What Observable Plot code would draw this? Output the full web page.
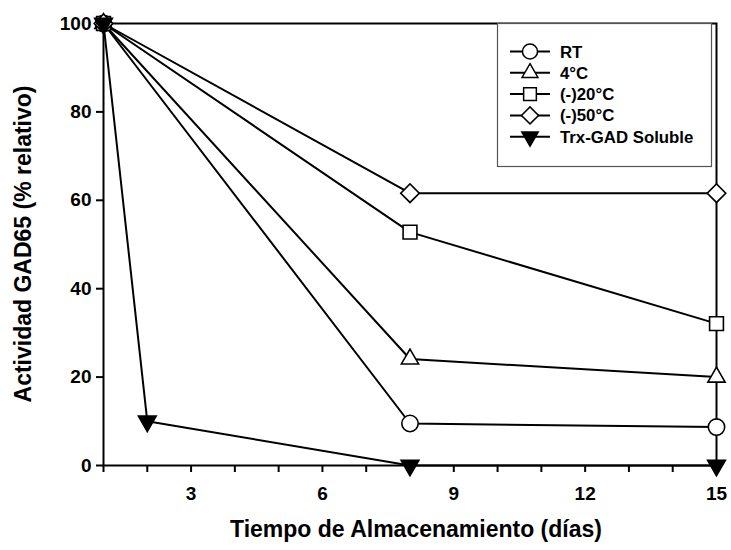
<!DOCTYPE html>
<html>
<head>
<meta charset="utf-8">
<script src="https://cdn.jsdelivr.net/npm/d3@7"></script>
<script src="https://cdn.jsdelivr.net/npm/@observablehq/plot@0.6"></script>
<style>
  html, body { margin: 0; padding: 0; background: #fff; }
  #chart svg { display: block; }
</style>
</head>
<body>
<div id="chart"></div>
<script>
// ---- data ----
const days = [1, 8, 15];
const rtValues = [100, 9.5, 8.7];
const c4Values = [100, 24.1, 20.0];
const c20Values = [100, 52.8, 32.1];
const c50Values = [100, 61.6, 61.6];
const trxDays = [1, 2, 8, 15];
const trxValues = [100, 10, 0, 0];
const seriesNames = ["RT", "4°C", "(-)20°C", "(-)50°C", "Trx-GAD Soluble"];
const xTicks = [1, 2, 3, 4, 5, 6, 7, 8, 9, 10, 11, 12, 13, 14, 15];
const xTickLabels = [3, 6, 9, 12, 15];
const yTicks = [0, 20, 40, 60, 80, 100];
const xTitle = "Tiempo de Almacenamiento (días)";
const yTitle = "Actividad GAD65 (% relativo)";

// marker styling per series (not data)
const styles = [
  {symbol: "circle", r: 8.2, rotate: 0, fill: "white"},
  {symbol: "triangle", r: 6.4, rotate: 0, fill: "white"},
  {symbol: "square", r: 7.8, rotate: 0, fill: "white"},
  {symbol: "square", r: 7.4, rotate: 45, fill: "white"},
  {symbol: "triangle", r: 6.6, rotate: 180, fill: "black"}
];

const seriesX = [days, days, days, days, trxDays];
const seriesY = [rtValues, c4Values, c20Values, c50Values, trxValues];
const tables = seriesNames.map((name, i) =>
  seriesX[i].map((x, j) => ({series: name, day: x, value: seriesY[i][j]})));

const FONT = "'Liberation Sans', Arial, sans-serif";

const marks = [Plot.frame({stroke: "black", strokeWidth: 2})];
tables.forEach(t => marks.push(Plot.line(t, {x: "day", y: "value", stroke: "black", strokeWidth: 2})));
tables.forEach((t, i) => {
  const s = styles[i];
  marks.push(Plot.dot(t, {x: "day", y: "value", symbol: () => s.symbol, r: s.r, rotate: s.rotate,
    fill: s.fill, stroke: "black", strokeWidth: 1.6}));
});
marks.push(Plot.axisX({ticks: xTicks, tickSize: 7, tickPadding: 14, strokeWidth: 2,
  tickFormat: d => xTickLabels.includes(d) ? String(d) : "", label: null,
  fontSize: 19, fontWeight: "bold"}));
marks.push(Plot.axisY({ticks: yTicks, tickSize: 7, tickPadding: 5, strokeWidth: 2,
  label: null, fontSize: 19, fontWeight: "bold"}));

const chart = Plot.plot({
  width: 731,
  height: 550,
  marginLeft: 103,
  marginRight: 15,
  marginTop: 23,
  marginBottom: 85,
  style: {fontFamily: FONT, color: "black", background: "white"},
  x: {domain: [1, 15]},
  y: {domain: [0, 100]},
  symbol: {type: "identity"},
  marks
});
document.getElementById("chart").appendChild(chart);

// titles and legend
const svg = d3.select(chart);
svg.append("text")
  .attr("x", 416).attr("y", 537)
  .attr("text-anchor", "middle")
  .style("font-family", FONT).style("font-weight", "bold").style("font-size", "23px")
  .attr("fill", "black")
  .text(xTitle);
svg.append("text")
  .attr("transform", "translate(31,244) rotate(-90)")
  .attr("text-anchor", "middle")
  .style("font-family", FONT).style("font-weight", "bold").style("font-size", "23px")
  .attr("fill", "black")
  .text(yTitle);

const lg = svg.append("g");
lg.append("rect")
  .attr("x", 497.5).attr("y", 23.5).attr("width", 214).attr("height", 143)
  .attr("fill", "white").attr("stroke", "#555").attr("stroke-width", 1.2);
const symMap = {circle: d3.symbolCircle, triangle: d3.symbolTriangle, square: d3.symbolSquare};
seriesNames.forEach((name, i) => {
  const cy = 51.5 + i * 21.3;
  const s = styles[i];
  const r = s.r * 0.92;
  lg.append("line").attr("x1", 510).attr("x2", 550).attr("y1", cy).attr("y2", cy)
    .attr("stroke", "black").attr("stroke-width", 2);
  lg.append("path")
    .attr("d", d3.symbol(symMap[s.symbol], Math.PI * r * r)())
    .attr("transform", `translate(530,${cy}) rotate(${s.rotate})`)
    .attr("fill", s.fill).attr("stroke", "black").attr("stroke-width", 1.5);
  lg.append("text")
    .attr("x", 560).attr("y", cy).attr("dy", "0.36em")
    .attr("text-anchor", "start")
    .style("text-anchor", "start")
    .style("font-family", FONT).style("font-weight", "bold").style("font-size", "16.8px")
    .attr("fill", "black")
    .text(name);
});
</script>
</body>
</html>
